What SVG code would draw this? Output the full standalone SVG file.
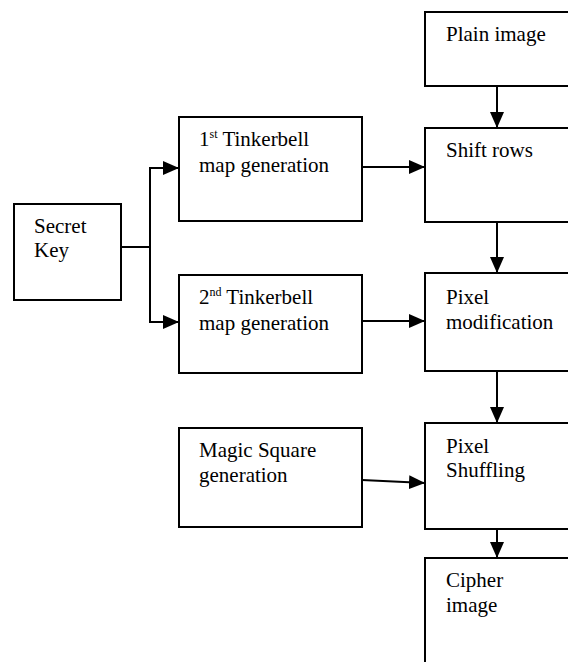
<svg xmlns="http://www.w3.org/2000/svg" width="568" height="662" viewBox="0 0 568 662">
<style>
.box{fill:#fff;stroke:#000;stroke-width:2}
text{font-family:'Liberation Serif','Times New Roman',Times,'DejaVu Serif',serif;font-size:21px;fill:#000}
.sup{font-size:12px}
.c{fill:none;stroke:#000;stroke-width:2}
</style>
<defs>
<marker id="ah" viewBox="0 0 16 14" refX="16" refY="7" markerWidth="16" markerHeight="14" markerUnits="userSpaceOnUse" orient="auto">
<path d="M0,0 L16,7 L0,14 z" fill="#000"/>
</marker>
</defs>
<rect width="568" height="662" fill="#fff"/>
<g id="connectors">
<path class="c" d="M121,247 H150"/>
<path class="c" d="M150,247 V168 H179" marker-end="url(#ah)"/>
<path class="c" d="M150,247 V322 H179" marker-end="url(#ah)"/>
<path class="c" d="M362,167 H425" marker-end="url(#ah)"/>
<path class="c" d="M362,321 H425" marker-end="url(#ah)"/>
<path class="c" d="M362,480 L425,483" marker-end="url(#ah)"/>
<path class="c" d="M497,86 V128" marker-end="url(#ah)"/>
<path class="c" d="M497,222 V273" marker-end="url(#ah)"/>
<path class="c" d="M497,371 V423" marker-end="url(#ah)"/>
<path class="c" d="M497,529 V558" marker-end="url(#ah)"/>
</g>
<g id="secret-key">
<rect class="box" x="14" y="204" width="107" height="96"/>
<text x="34" y="233" font-family="Liberation Serif, serif">Secret</text>
<text x="34" y="257" font-family="Liberation Serif, serif">Key</text>
</g>
<g id="tinkerbell-1">
<rect class="box" x="179" y="117" width="183" height="104"/>
<text x="199" y="146" font-family="Liberation Serif, serif">1<tspan class="sup" dy="-8">st</tspan><tspan dy="8"> Tinkerbell</tspan></text>
<text x="199" y="172" font-family="Liberation Serif, serif">map generation</text>
</g>
<g id="tinkerbell-2">
<rect class="box" x="179" y="275" width="183" height="98"/>
<text x="199" y="304" font-family="Liberation Serif, serif">2<tspan class="sup" dy="-8">nd</tspan><tspan dy="8"> Tinkerbell</tspan></text>
<text x="199" y="330" font-family="Liberation Serif, serif">map generation</text>
</g>
<g id="magic-square">
<rect class="box" x="179" y="428" width="183" height="99"/>
<text x="199" y="457" font-family="Liberation Serif, serif">Magic Square</text>
<text x="199" y="482" font-family="Liberation Serif, serif">generation</text>
</g>
<g id="plain-image">
<rect class="box" x="425" y="12" width="170" height="74"/>
<text x="446" y="41" font-family="Liberation Serif, serif">Plain image</text>
</g>
<g id="shift-rows">
<rect class="box" x="425" y="128" width="170" height="94"/>
<text x="446" y="157" font-family="Liberation Serif, serif">Shift rows</text>
</g>
<g id="pixel-modification">
<rect class="box" x="425" y="273" width="170" height="98"/>
<text x="446" y="304" font-family="Liberation Serif, serif">Pixel</text>
<text x="446" y="329" font-family="Liberation Serif, serif">modification</text>
</g>
<g id="pixel-shuffling">
<rect class="box" x="425" y="423" width="170" height="106"/>
<text x="446" y="453" font-family="Liberation Serif, serif">Pixel</text>
<text x="446" y="477" font-family="Liberation Serif, serif">Shuffling</text>
</g>
<g id="cipher-image">
<rect class="box" x="425" y="558" width="170" height="130"/>
<text x="446" y="587" font-family="Liberation Serif, serif">Cipher</text>
<text x="446" y="612" font-family="Liberation Serif, serif">image</text>
</g>
</svg>
